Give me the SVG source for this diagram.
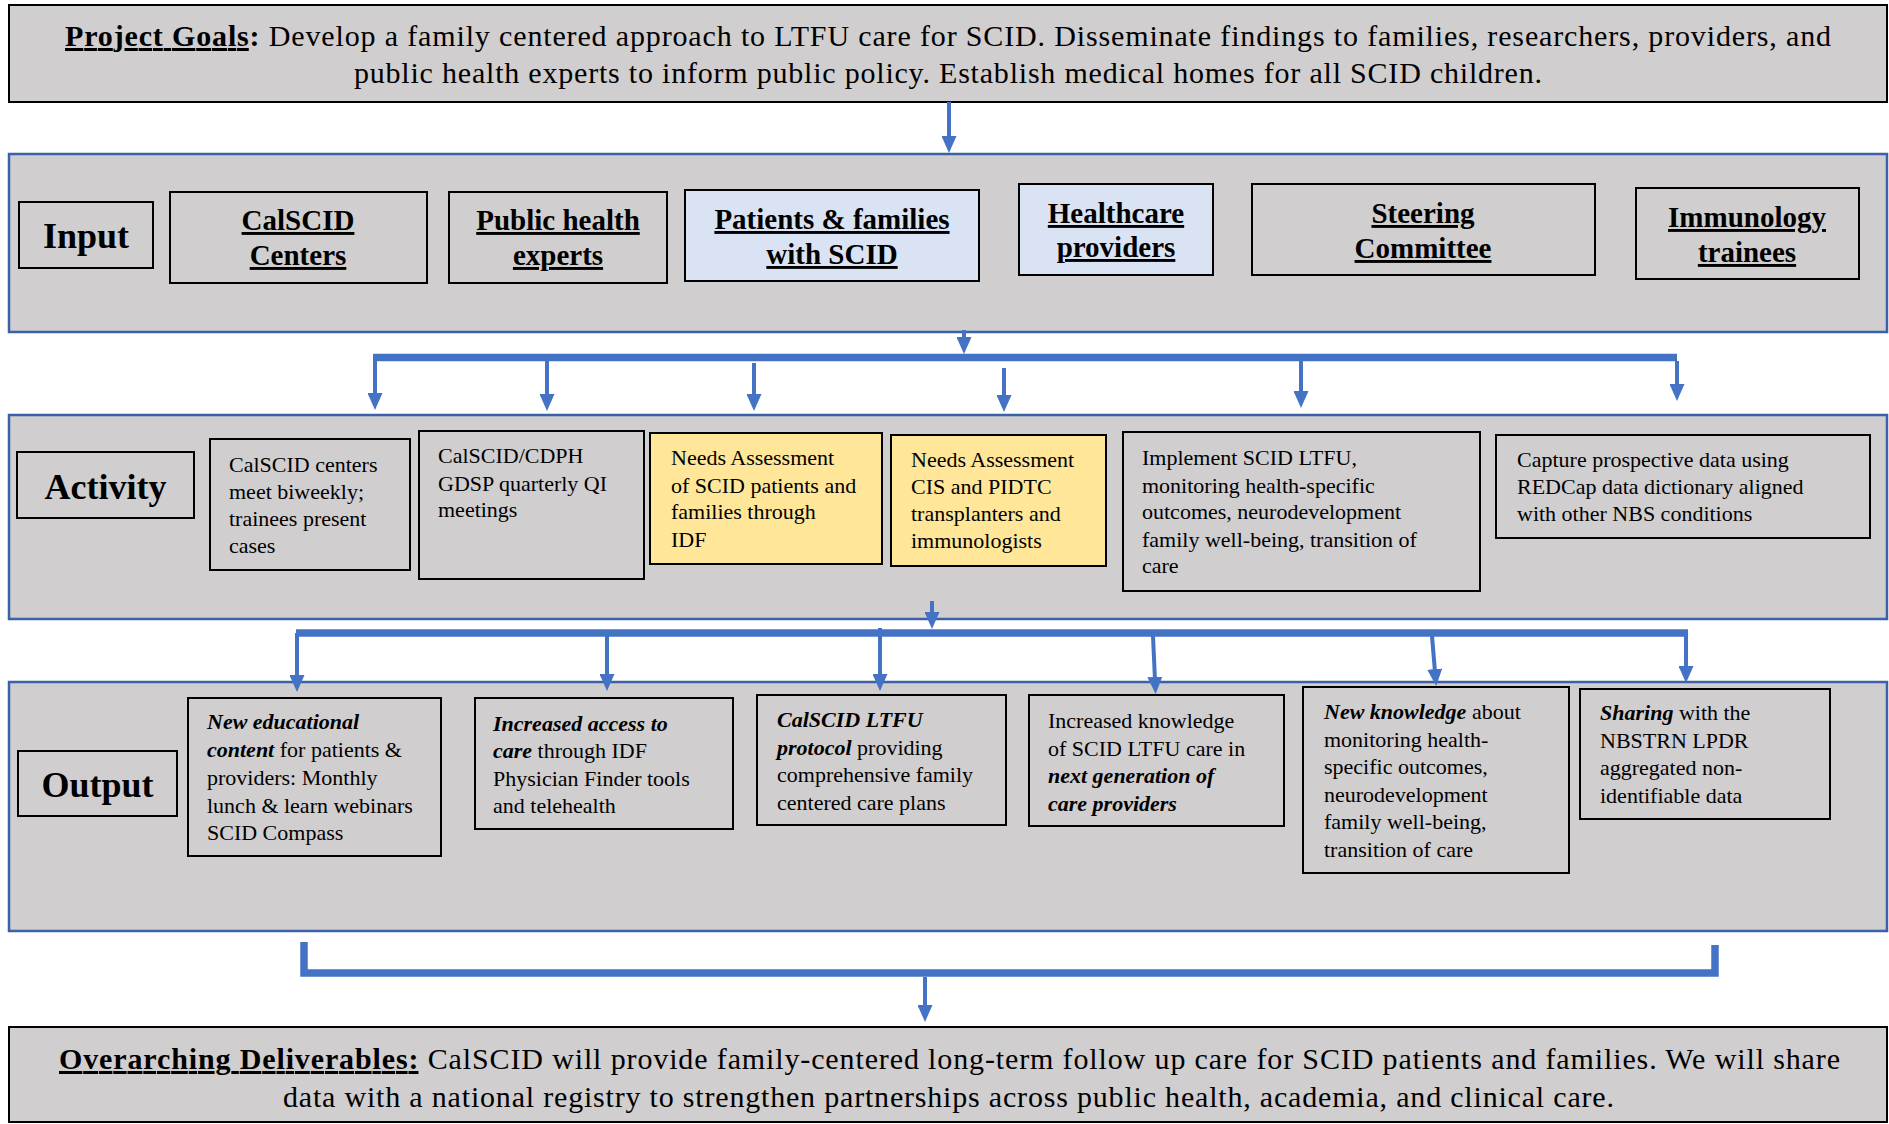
<svg xmlns="http://www.w3.org/2000/svg" width="1889" height="1124" viewBox="0 0 1889 1124">
<style>
.sec{fill:#d0cecf;stroke:#3b62a8;stroke-width:2.5}
.box{fill:#d0cecf;stroke:#000;stroke-width:2}
.blu{fill:#dae3f3}
.yel{fill:#ffe699}
text{font-family:"Liberation Serif","Times New Roman",serif;fill:#000}
.lbl{font-size:36px;font-weight:bold;text-anchor:middle}
.in{font-size:29px;font-weight:bold;text-decoration:underline;text-anchor:middle}
.t{font-size:22px}
.big{font-size:30px}
.bi{font-weight:bold;font-style:italic}
.ln{stroke:#4472c4;fill:none;stroke-width:4}
.bar{stroke:#4472c4;fill:none;stroke-width:7.5}
</style>
<defs>
<marker id="ah" viewBox="0 0 17 15" markerUnits="userSpaceOnUse" markerWidth="17" markerHeight="15" refX="3" refY="7.5" orient="auto">
<path d="M0,0 L17,7.5 L0,15 z" fill="#4472c4"/>
</marker>
</defs>
<rect width="1889" height="1124" fill="#fff"/>

<g id="goals">
<rect x="9" y="5" width="1878" height="97" class="box"/>
<text class="big" x="65" y="46" textLength="1766" lengthAdjust="spacing"><tspan font-weight="bold" text-decoration="underline">Project Goals</tspan><tspan font-weight="bold">:</tspan> Develop a family centered approach to LTFU care for SCID. Disseminate findings to families, researchers, providers, and</text>
<text class="big" x="354" y="83" textLength="1188" lengthAdjust="spacing">public health experts to inform public policy. Establish medical homes for all SCID children.</text>
</g>

<g id="input-section">
<rect x="9" y="154" width="1878" height="178" class="sec"/>
</g>
<g id="input-label">
<rect x="19" y="202" width="134" height="66" class="box"/>
<text class="lbl" x="86" y="248">Input</text>
</g>
<g id="in-calscid">
<rect x="170" y="192" width="257" height="91" class="box"/>
<text class="in" x="298" y="230">CalSCID</text>
<text class="in" x="298" y="265">Centers</text>
</g>
<g id="in-public">
<rect x="449" y="192" width="218" height="91" class="box"/>
<text class="in" x="558" y="230">Public health</text>
<text class="in" x="558" y="265">experts</text>
</g>
<g id="in-patients">
<rect x="685" y="190" width="294" height="91" class="box blu"/>
<text class="in" x="832" y="229">Patients &amp; families</text>
<text class="in" x="832" y="264">with SCID</text>
</g>
<g id="in-healthcare">
<rect x="1019" y="184" width="194" height="91" class="box blu"/>
<text class="in" x="1116" y="223">Healthcare</text>
<text class="in" x="1116" y="257">providers</text>
</g>
<g id="in-steering">
<rect x="1252" y="184" width="343" height="91" class="box"/>
<text class="in" x="1423" y="223">Steering</text>
<text class="in" x="1423" y="258">Committee</text>
</g>
<g id="in-immunology">
<rect x="1636" y="188" width="223" height="91" class="box"/>
<text class="in" x="1747" y="227">Immunology</text>
<text class="in" x="1747" y="262">trainees</text>
</g>

<g id="activity-section">
<rect x="9" y="415" width="1878" height="204" class="sec"/>
</g>
<g id="activity-label">
<rect x="17" y="452" width="177" height="66" class="box"/>
<text class="lbl" x="105.5" y="499">Activity</text>
</g>
<g id="act-centers">
<rect x="210" y="439" width="200" height="131" class="box"/>
<text class="t" x="229" y="472">CalSCID centers</text>
<text class="t" x="229" y="499">meet biweekly;</text>
<text class="t" x="229" y="526">trainees present</text>
<text class="t" x="229" y="553">cases</text>
</g>
<g id="act-cdph">
<rect x="419" y="431" width="225" height="148" class="box"/>
<text class="t" x="438" y="463">CalSCID/CDPH</text>
<text class="t" x="438" y="491">GDSP quarterly QI</text>
<text class="t" x="438" y="517">meetings</text>
</g>
<g id="act-needs1">
<rect x="650" y="433" width="232" height="131" class="box yel"/>
<text class="t" x="671" y="465">Needs Assessment</text>
<text class="t" x="671" y="493">of SCID patients and</text>
<text class="t" x="671" y="519">families through</text>
<text class="t" x="671" y="547">IDF</text>
</g>
<g id="act-needs2">
<rect x="891" y="435" width="215" height="131" class="box yel"/>
<text class="t" x="911" y="467">Needs Assessment</text>
<text class="t" x="911" y="494">CIS and PIDTC</text>
<text class="t" x="911" y="521">transplanters and</text>
<text class="t" x="911" y="548">immunologists</text>
</g>
<g id="act-implement">
<rect x="1123" y="432" width="357" height="159" class="box"/>
<text class="t" x="1142" y="465">Implement SCID LTFU,</text>
<text class="t" x="1142" y="493">monitoring health-specific</text>
<text class="t" x="1142" y="519">outcomes, neurodevelopment</text>
<text class="t" x="1142" y="547">family well-being, transition of</text>
<text class="t" x="1142" y="573">care</text>
</g>
<g id="act-capture">
<rect x="1496" y="435" width="374" height="103" class="box"/>
<text class="t" x="1517" y="467">Capture prospective data using</text>
<text class="t" x="1517" y="494">REDCap data dictionary aligned</text>
<text class="t" x="1517" y="521">with other NBS conditions</text>
</g>

<g id="output-section">
<rect x="9" y="682" width="1878" height="249" class="sec"/>
</g>
<g id="output-label">
<rect x="18" y="751" width="159" height="65" class="box"/>
<text class="lbl" x="97.5" y="797">Output</text>
</g>
<g id="out-educational">
<rect x="188" y="698" width="253" height="158" class="box"/>
<text class="t" x="207" y="729"><tspan class="bi">New educational</tspan></text>
<text class="t" x="207" y="757"><tspan class="bi">content</tspan> for patients &amp;</text>
<text class="t" x="207" y="785">providers: Monthly</text>
<text class="t" x="207" y="813">lunch &amp; learn webinars</text>
<text class="t" x="207" y="840">SCID Compass</text>
</g>
<g id="out-access">
<rect x="475" y="698" width="258" height="131" class="box"/>
<text class="t" x="493" y="731"><tspan class="bi">Increased access to</tspan></text>
<text class="t" x="493" y="758"><tspan class="bi">care</tspan> through IDF</text>
<text class="t" x="493" y="786">Physician Finder tools</text>
<text class="t" x="493" y="813">and telehealth</text>
</g>
<g id="out-protocol">
<rect x="757" y="695" width="249" height="130" class="box"/>
<text class="t" x="777" y="727"><tspan class="bi">CalSCID LTFU</tspan></text>
<text class="t" x="777" y="755"><tspan class="bi">protocol</tspan> providing</text>
<text class="t" x="777" y="782">comprehensive family</text>
<text class="t" x="777" y="810">centered care plans</text>
</g>
<g id="out-knowledge">
<rect x="1029" y="695" width="255" height="131" class="box"/>
<text class="t" x="1048" y="728">Increased knowledge</text>
<text class="t" x="1048" y="756">of SCID LTFU care in</text>
<text class="t" x="1048" y="783"><tspan class="bi">next generation of</tspan></text>
<text class="t" x="1048" y="811"><tspan class="bi">care providers</tspan></text>
</g>
<g id="out-newknowledge">
<rect x="1303" y="687" width="266" height="186" class="box"/>
<text class="t" x="1324" y="719"><tspan class="bi">New knowledge</tspan> about</text>
<text class="t" x="1324" y="747">monitoring health-</text>
<text class="t" x="1324" y="774">specific outcomes,</text>
<text class="t" x="1324" y="802">neurodevelopment</text>
<text class="t" x="1324" y="829">family well-being,</text>
<text class="t" x="1324" y="857">transition of care</text>
</g>
<g id="out-sharing">
<rect x="1580" y="689" width="250" height="130" class="box"/>
<text class="t" x="1600" y="720"><tspan class="bi">Sharing</tspan> with the</text>
<text class="t" x="1600" y="748">NBSTRN LPDR</text>
<text class="t" x="1600" y="775">aggregated non-</text>
<text class="t" x="1600" y="803">identifiable data</text>
</g>

<g id="deliverables">
<rect x="9" y="1027" width="1878" height="95" class="box"/>
<text class="big" x="59" y="1069" textLength="1781" lengthAdjust="spacing"><tspan font-weight="bold" text-decoration="underline">Overarching Deliverables:</tspan> CalSCID will provide family-centered long-term follow up care for SCID patients and families. We will share</text>
<text class="big" x="283" y="1107" textLength="1331" lengthAdjust="spacing">data with a national registry to strengthen partnerships across public health, academia, and clinical care.</text>
</g>

<g id="connectors">
<line class="ln" x1="949" y1="102" x2="949" y2="139" marker-end="url(#ah)"/>
<line class="ln" x1="964" y1="330" x2="964" y2="340" marker-end="url(#ah)"/>
<path class="bar" d="M373,357.5 H1677"/>
<line class="ln" x1="375" y1="361" x2="375" y2="396" marker-end="url(#ah)"/>
<line class="ln" x1="547" y1="361" x2="547" y2="397" marker-end="url(#ah)"/>
<line class="ln" x1="754" y1="363" x2="754" y2="397" marker-end="url(#ah)"/>
<line class="ln" x1="1004" y1="368" x2="1004" y2="398" marker-end="url(#ah)"/>
<line class="ln" x1="1301" y1="361" x2="1301" y2="394" marker-end="url(#ah)"/>
<line class="ln" x1="1677" y1="361" x2="1677" y2="387" marker-end="url(#ah)"/>
<line class="ln" x1="932" y1="601" x2="932" y2="615" marker-end="url(#ah)"/>
<path class="bar" d="M296,633 H1688"/>
<line class="ln" x1="297" y1="633" x2="297" y2="678" marker-end="url(#ah)"/>
<line class="ln" x1="607" y1="636" x2="607" y2="677" marker-end="url(#ah)"/>
<line class="ln" x1="880" y1="628" x2="880" y2="677" marker-end="url(#ah)"/>
<line class="ln" x1="1153" y1="636" x2="1155" y2="680" marker-end="url(#ah)"/>
<line class="ln" x1="1432" y1="636" x2="1435" y2="672" marker-end="url(#ah)"/>
<line class="ln" x1="1686" y1="633" x2="1686" y2="669" marker-end="url(#ah)"/>
<path class="bar" d="M304,942 V973 H1715 V945"/>
<line class="ln" x1="925" y1="977" x2="925" y2="1008" marker-end="url(#ah)"/>
</g>
</svg>
